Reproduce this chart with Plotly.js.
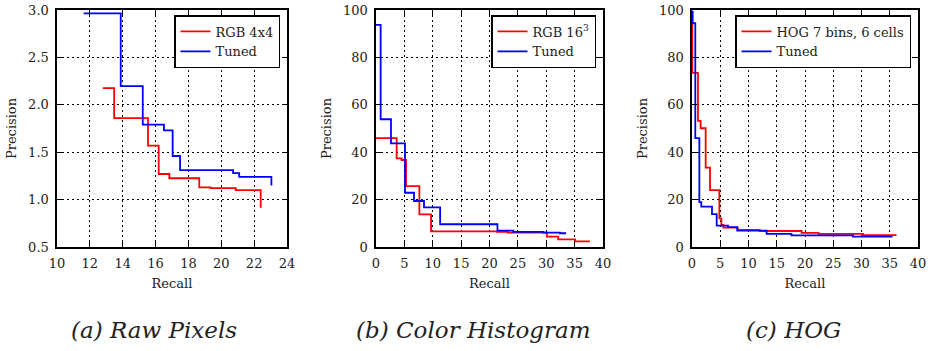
<!DOCTYPE html>
<html>
<head>
<meta charset="utf-8">
<script src="https://cdn.plot.ly/plotly-3.0.1.min.js"></script>
<style>html,body{margin:0;padding:0;background:#fff;}#chart{width:928px;height:351px;}</style>
</head>
<body>
<div id="chart"></div>
<script>
// ---- (a) Raw Pixels ----
const rawRecallRGB   = [12.79, 13.48, 15.54, 16.19, 16.84, 18.66, 19.35, 20.88, 22.40];
const rawPrecRGB     = [2.176, 1.86, 1.57, 1.27, 1.225, 1.13, 1.12, 1.10, 0.915];
const rawRecallTuned = [11.62, 13.88, 15.22, 16.51, 17.04, 17.49, 20.72, 21.09, 23.05];
const rawPrecTuned   = [2.965, 2.197, 1.79, 1.73, 1.46, 1.31, 1.28, 1.24, 1.15];

// ---- (b) Color Histogram ----
const colRecallRGB   = [0, 3.64, 4.52, 5.29, 7.64, 9.7, 21.3, 23.2, 30.1, 32.1, 35.1, 37.7];
const colPrecRGB     = [45.9, 37.4, 36.7, 25.7, 13.8, 6.6, 6.4, 6.1, 4.35, 3.24, 2.4, 2.4];
const colRecallTuned = [0, 0.82, 2.64, 5.11, 6.7, 8.46, 11.3, 21.4, 24.2, 29.5, 32.4, 33.5];
const colPrecTuned   = [93.7, 53.9, 43.7, 22.9, 19.4, 16.7, 9.6, 6.9, 6.4, 6.1, 5.8, 5.8];

// ---- (c) HOG ----
const hogRecallHOG   = [0, 0.05, 1.06, 1.53, 2.42, 3.19, 4.84, 5.2, 5.55, 8.1, 12.0, 19.4, 22.4, 30.3, 36.2];
const hogPrecHOG     = [95, 73.5, 53.2, 50.1, 33.5, 24.0, 12.1, 9.3, 8.2, 7.2, 6.75, 6.0, 5.5, 5.05, 5.05];
const hogRecallTuned = [0, 0.12, 0.58, 1.3, 1.65, 3.54, 4.37, 6.37, 8.0, 13.2, 17.6, 28.5, 35.5];
const hogPrecTuned   = [99.3, 94.4, 45.9, 18.9, 17.0, 13.9, 9.0, 8.4, 6.9, 5.5, 4.9, 4.35, 4.35];

// ---- labels ----
const seriesNames = [["RGB 4x4", "Tuned"], ["RGB 16<sup>3</sup>", "Tuned"], ["HOG 7 bins, 6 cells", "Tuned"]];
const captions = ["(a) Raw Pixels", "(b) Color Histogram", "(c) HOG"];
const xTitle = "Recall", yTitle = "Precision";

const W = 928, H = 351;
const SERIF = "DejaVu Serif";
const RED = "#ff0000", BLUE = "#0000ff";

// plot areas in px
const boxes = [[57, 287], [376, 603], [692, 918]];
const yTop = 10, yBot = 247;
const captionCenters = [153.5, 473, 793];

function line(x, y, name, color, xa, ya, lg) {
  return {x: x, y: y, name: name, type: "scatter", mode: "lines",
    line: {color: color, width: 1.8, shape: "hv"}, xaxis: xa, yaxis: ya, legend: lg};
}

const data = [
  line(rawRecallRGB, rawPrecRGB, seriesNames[0][0], RED, "x", "y", "legend"),
  line(rawRecallTuned, rawPrecTuned, seriesNames[0][1], BLUE, "x", "y", "legend"),
  line(colRecallRGB, colPrecRGB, seriesNames[1][0], RED, "x2", "y2", "legend2"),
  line(colRecallTuned, colPrecTuned, seriesNames[1][1], BLUE, "x2", "y2", "legend2"),
  line(hogRecallHOG, hogPrecHOG, seriesNames[2][0], RED, "x3", "y3", "legend3"),
  line(hogRecallTuned, hogPrecTuned, seriesNames[2][1], BLUE, "x3", "y3", "legend3")
];

function axis(domain, range, dtick, anchor, title, fmt) {
  const a = {
    domain: domain, range: range, dtick: dtick, tick0: range[0], anchor: anchor,
    showline: true, linecolor: "#000", linewidth: 1.6, mirror: "ticks",
    ticks: "inside", ticklen: 5, tickwidth: 1, tickcolor: "#000",
    showgrid: true, gridcolor: "#000", gridwidth: 1, griddash: "2px,3px",
    zeroline: false, tickfont: {family: SERIF, size: 13, color: "#222"},
    ticklabelstandoff: 4, fixedrange: true,
    title: {text: title, font: {family: SERIF, size: 13, color: "#222"}, standoff: 8}
  };
  if (fmt) a.tickformat = fmt;
  return a;
}

const yDom = [1 - yBot / H, 1 - yTop / H];
const xr = [[10, 24], [0, 40], [0, 40]];
const yr = [[0.5, 3.0], [0, 100], [0, 100]];
const xd = [2, 5, 5], yd = [0.5, 20, 20];

const layout = {
  width: W, height: H, margin: {l: 0, r: 0, t: 0, b: 0},
  paper_bgcolor: "#fff", plot_bgcolor: "#fff", showlegend: true,
  annotations: []
};
const legendKeys = ["legend", "legend2", "legend3"];
const legendRight = [280, 596, 911];
for (let i = 0; i < 3; i++) {
  const s = i === 0 ? "" : String(i + 1);
  layout["xaxis" + s] = axis([boxes[i][0] / W, boxes[i][1] / W], xr[i], xd[i], "y" + s, xTitle, null);
  layout["yaxis" + s] = axis(yDom, yr[i], yd[i], "x" + s, yTitle, i === 0 ? ".1f" : null);
  layout[legendKeys[i]] = {
    x: legendRight[i] / W, y: 1 - 15 / H, xanchor: "right", yanchor: "top",
    xref: "paper", yref: "paper",
    bgcolor: "#fff", bordercolor: "#000", borderwidth: 1.5,
    font: {family: SERIF, size: 13, color: "#222"}
  };
  layout.annotations.push({
    text: "<i>" + captions[i] + "</i>", xref: "paper", yref: "paper",
    x: captionCenters[i] / W, y: 1 - 330 / H,
    xanchor: "center", yanchor: "middle", showarrow: false,
    font: {family: SERIF, size: 23, color: "#222"}
  });
}

Plotly.newPlot("chart", data, layout, {staticPlot: true, displayModeBar: false});
</script>
</body>
</html>
